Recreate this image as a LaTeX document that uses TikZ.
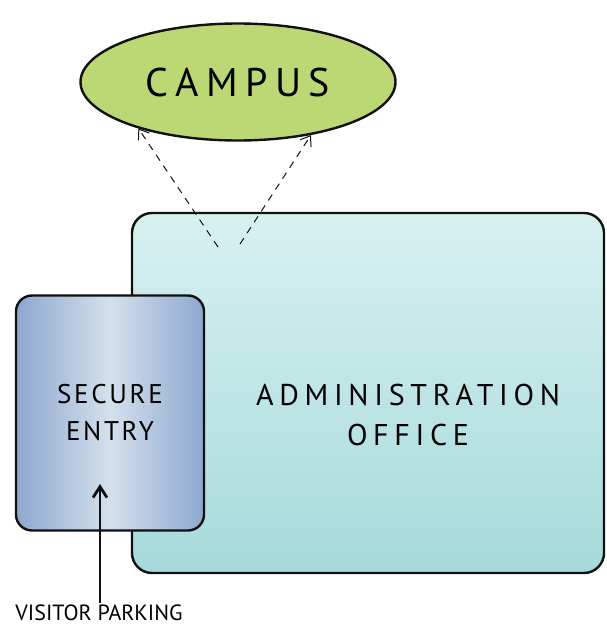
\documentclass[tikz,border=0pt]{standalone}
\usepackage{fontspec}
\setmainfont{PT Sans}
\usepackage{tikz}
\usetikzlibrary{arrows.meta,shapes.geometric}
\definecolor{campgreen}{HTML}{BCD874}
\definecolor{offtop}{HTML}{D8F0F0}
\definecolor{offbot}{HTML}{A6DADB}
\definecolor{gateside}{HTML}{8EA8D0}
\definecolor{gatemid}{HTML}{D4E0EC}
\definecolor{inkline}{HTML}{111111}
\newfontfamily\wideletters[LetterSpace=19]{PT Sans}
\newfontfamily\midletters[LetterSpace=10]{PT Sans}

\tikzset{
  roombox/.style={draw=inkline, line width=2.4pt, rounded corners=20pt},
  linkarrow/.style={-{Straight Barb[length=9pt,width=13pt]}, line width=1pt,
    dash pattern=on 7pt off 6pt, draw=inkline},
  walkarrow/.style={-{Straight Barb[length=11pt,width=14pt]}, line width=2.8pt, draw=inkline}
}

\begin{document}
\begin{tikzpicture}[x=1pt, y=-1pt]
  \useasboundingbox (0,0) rectangle (606,629);

  % buildings
  \node[roombox, top color=offtop, bottom color=offbot,
    minimum width=472pt, minimum height=360pt] (admin) at (368,393) {};
  \node[font=\wideletters\fontsize{30}{40}\selectfont, align=center]
    (admintext) at (408,415) {ADMINISTRATION\\OFFICE};

  \node[roombox, rounded corners=16pt, left color=gateside, right color=gateside,
    middle color=gatemid, minimum width=188pt, minimum height=235pt,
    font=\midletters\fontsize{27}{37}\selectfont, align=center]
    (gate) at (110,413) {SECURE\\ENTRY};

  \node[ellipse, draw=inkline, line width=2.4pt, fill=campgreen,
    minimum width=315pt, minimum height=117pt,
    font=\wideletters\fontsize{40}{48}\selectfont] (campus) at (238,82) {CAMPUS};

  \node[font=\fontsize{22}{26}\selectfont, inner sep=2pt] (parking) at (99,613) {VISITOR PARKING};

  % connectors
  \coordinate (linkA) at (218,247);
  \coordinate (linkB) at (240,244);
  \coordinate (door) at (100,484);
  \draw[linkarrow] (linkA) -- (campus.205);
  \draw[linkarrow] (linkB) -- (campus.324);
  \draw[walkarrow] (parking.north -| door) -- (door);
\end{tikzpicture}
\end{document}
